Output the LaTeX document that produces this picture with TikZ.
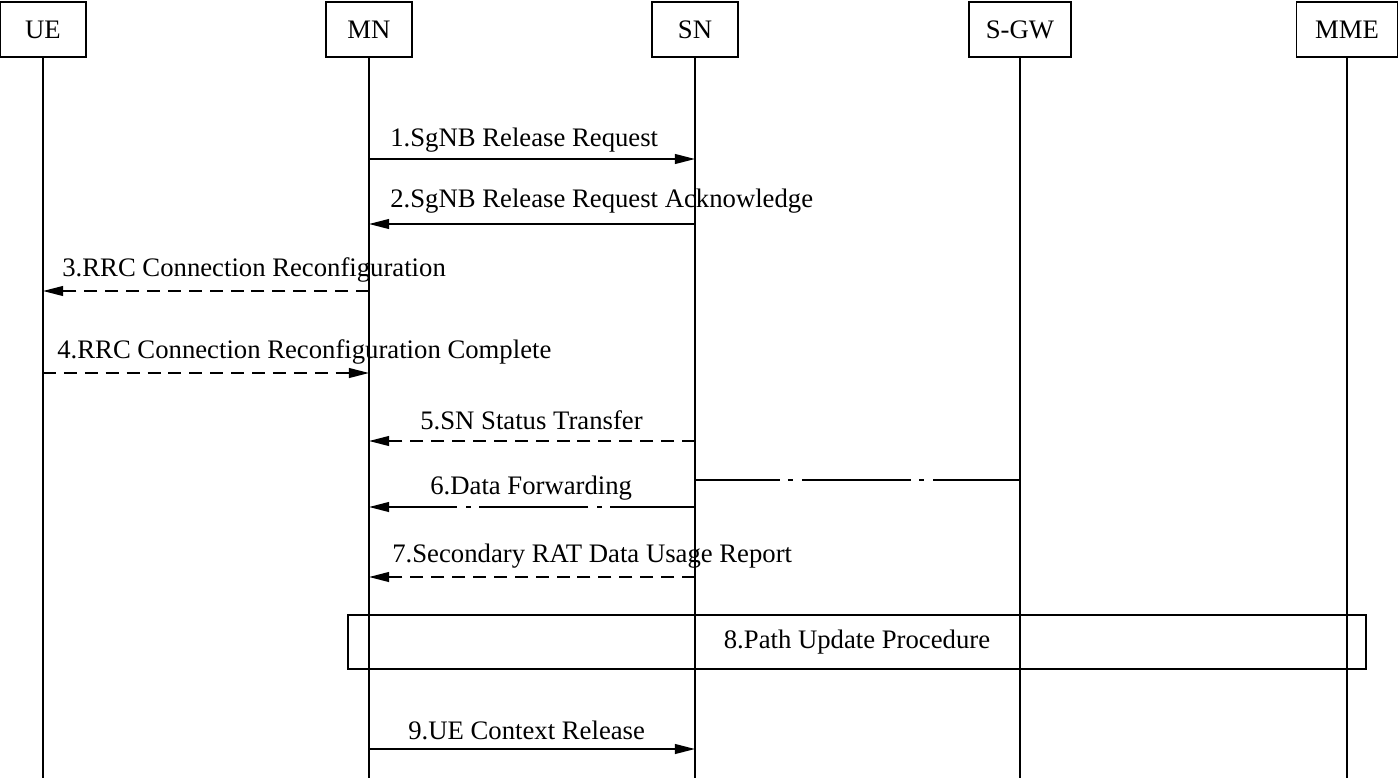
\documentclass[tikz,border=0pt]{standalone}
\usepackage{fontspec}
\setmainfont{Liberation Serif}
\usetikzlibrary{arrows.meta}

\begin{document}
\begin{tikzpicture}[x=0.02cm, y=-0.02cm,
    font=\fontsize{15.2}{18}\selectfont,
    entity/.style={draw, line width=1pt, minimum width=1.72cm, minimum height=1.1cm, inner sep=0pt, text height=10pt, text depth=0pt, anchor=north},
    life/.style={line width=1pt},
    msg/.style={line width=1pt, -{Triangle[length=11.5pt, width=5.6pt]}},
    msgdash/.style={msg, dash pattern=on 7.4pt off 4.5pt},
    fwd/.style={line width=1pt, dash pattern=on 62.4pt off 4.5pt on 2.8pt off 5.1pt, dash phase=14pt},
    lbl/.style={anchor=base west, inner sep=0pt}]
    \useasboundingbox (0,0) rectangle (1400,778);

    % Entities
    \node[entity] (ue) at (43,1) {UE};
    \node[entity] (mn) at (369,1) {MN};
    \node[entity] (sn) at (695,1) {SN};
    \node[entity, minimum width=2.04cm] (sgw) at (1020,1) {S-GW};
    \node[entity, minimum width=2.02cm] (mme) at (1347,1) {MME};

    % Lifelines
    \coordinate (ueEnd) at (43,778);
    \coordinate (mnEnd) at (369,778);
    \coordinate (snEnd) at (695,778);
    \coordinate (sgwEnd) at (1020,778);
    \coordinate (mmeEnd) at (1347,778);

    \draw[life] (ue) -- (ueEnd);
    \draw[life] (mn) -- (mnEnd);
    \draw[life] (sn) -- (snEnd);
    \draw[life] (sgw) -- (sgwEnd);
    \draw[life] (mme) -- (mmeEnd);

    % Message end points
    \coordinate (mn1) at (369,159);   \coordinate (sn1) at (695,159);
    \coordinate (mn2) at (369,224);   \coordinate (sn2) at (695,224);
    \coordinate (ue3) at (43,291);    \coordinate (mn3) at (369,291);
    \coordinate (ue4) at (43,373);    \coordinate (mn4) at (369,373);
    \coordinate (mn5) at (369,441);   \coordinate (sn5) at (695,441);
    \coordinate (sn6a) at (695,480);  \coordinate (sgw6) at (1020,480);
    \coordinate (mn6) at (369,507);   \coordinate (sn6) at (695,507);
    \coordinate (mn7) at (369,577);   \coordinate (sn7) at (695,577);
    \coordinate (mn9) at (369,749);   \coordinate (sn9) at (695,749);

    % Messages
    \draw[msg] (mn1) -- (sn1);
    \node[lbl] (l1) at (390,146) {1.SgNB Release Request};

    \draw[msg] (sn2) -- (mn2);
    \node[lbl] (l2) at (390,207) {2.SgNB Release Request Acknowledge};

    \draw[msgdash] (mn3) -- (ue3);
    \node[lbl] (l3) at (62,276) {3.RRC Connection Reconfiguration};

    \draw[msgdash] (ue4) -- (mn4);
    \node[lbl] (l4) at (57,358) {4.RRC Connection Reconfiguration Complete};

    \draw[msgdash] (sn5) -- (mn5);
    \node[lbl] (l5) at (420,429) {5.SN Status Transfer};

    % Data forwarding
    \draw[fwd] (sn6a) -- (sgw6);
    \draw[msg, fwd] (sn6) -- (mn6);
    \node[lbl] (l6) at (430,494) {6.Data Forwarding};

    \draw[msgdash] (sn7) -- (mn7);
    \node[lbl] (l7) at (392,562) {7.Secondary RAT Data Usage Report};

    % Path update
    \node[draw, line width=1pt, minimum width=20.36cm, minimum height=1.08cm] (proc) at (857,642) {8.Path Update Procedure};

    \draw[msg] (mn9) -- (sn9);
    \node[lbl] (l9) at (408,739) {9.UE Context Release};
\end{tikzpicture}
\end{document}
